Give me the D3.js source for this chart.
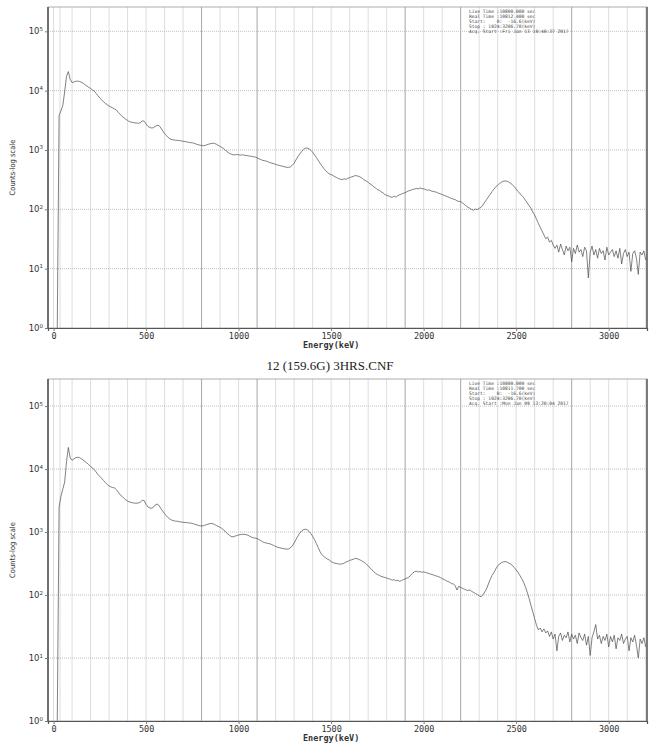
<!DOCTYPE html>
<html>
<head>
<meta charset="utf-8">
<script src="https://cdn.jsdelivr.net/npm/d3@7"></script>
<style>
body{margin:0;background:#fff;}
svg{display:block;}
</style>
</head>
<body>
<script>
// spectrum: one count per 10 keV bin, first bin at 20 keV
var binStart=20, binWidth=10;

var countsTop=[
	1,3800,4600,5600,9500,17500,21000,15500,
	13700,14000,14400,14500,14300,13900,13400,12600,12000,11400,
	10900,10300,9800,9000,8200,7500,7000,6500,6100,5800,
	5500,5300,5100,4900,4700,4300,4000,3700,3500,3300,
	3150,3000,2950,2900,2860,2850,2820,2900,3100,3050,
	2750,2500,2400,2350,2380,2500,2600,2580,2350,2100,
	1900,1750,1620,1530,1500,1480,1460,1450,1440,1420,
	1410,1390,1370,1350,1330,1320,1300,1260,1230,1210,
	1190,1180,1200,1230,1260,1280,1300,1290,1250,1200,
	1150,1100,1050,980,930,880,850,830,830,840,
	830,820,830,820,810,800,790,780,770,760,
	740,710,690,670,660,650,630,610,600,590,
	570,560,550,540,530,520,510,510,520,550,
	600,680,770,850,940,1020,1070,1080,1050,990,
	920,830,750,670,600,540,490,450,420,395,
	385,372,355,342,330,322,316,328,320,334,
	342,352,358,372,366,360,346,330,312,300,
	286,268,256,240,230,214,210,198,190,178,
	172,168,163,158,168,160,170,176,181,187,
	191,198,206,209,216,219,225,221,229,224,
	221,217,209,213,204,201,197,194,187,183,
	177,173,167,163,158,153,149,146,139,136,
	135,128,121,114,108,104,99,97,101,99,
	104,108,118,132,146,162,180,200,220,238,
	256,272,286,296,301,297,288,274,260,240,
	220,200,183,172,158,142,128,116,104,90,
	80,68,58,50,43,37,32,34,28,30,
	25,22,25,19,26,21,17,24,20,23,
	13,22,18,25,19,21,16,23,20,7,
	19,24,17,21,15,22,18,20,14,23,
	17,19,21,16,20,15,22,12,18,21,
	16,19,9,18,20,15,8,19,17,20,
	14
];

var countsBottom=[
	1,2500,3700,4800,6200,13000,22000,15000,
	13800,14500,15200,15400,15200,14600,13900,13200,12500,11800,
	11000,10400,9800,9000,8200,7600,7100,6600,6100,5700,
	5400,5200,5100,5000,4700,4300,3900,3700,3450,3250,
	3100,3000,2950,2900,2880,2870,2900,3000,3200,3150,
	2750,2500,2420,2400,2480,2700,2780,2650,2350,2150,
	1950,1800,1680,1600,1540,1510,1490,1480,1460,1440,
	1430,1420,1410,1400,1390,1370,1340,1310,1280,1260,
	1250,1260,1290,1320,1350,1370,1360,1320,1270,1230,
	1190,1140,1080,1000,940,890,850,840,860,880,
	900,910,920,920,910,890,860,830,810,800,
	790,760,730,700,680,670,660,650,630,610,
	590,575,565,555,548,540,535,540,560,600,
	670,760,860,960,1040,1090,1110,1090,1030,950,
	860,760,660,570,490,440,410,390,372,360,
	340,328,320,316,312,308,314,320,334,342,
	355,362,370,382,378,368,356,342,330,312,
	290,270,252,236,222,212,206,198,194,190,
	186,182,178,172,176,168,172,165,170,176,
	180,186,192,206,222,234,240,232,236,230,
	233,228,224,218,214,210,204,200,196,190,
	182,177,170,164,160,152,150,142,120,138,
	132,128,124,120,118,121,114,110,106,102,
	97,94,100,112,125,150,178,205,228,260,
	290,312,325,336,340,334,322,310,295,272,
	250,228,205,182,160,135,110,88,68,54,
	42,33,28,30,26,29,25,27,22,26,
	20,24,13,22,25,19,23,21,26,18,
	24,20,23,17,25,21,19,24,16,22,
	11,21,26,34,20,23,17,22,19,24,
	15,22,18,23,14,21,19,24,17,20,
	22,13,21,18,23,16,10,20,17,21,
	15
];

var xTicks=[0,500,1000,1500,2000,2500,3000];
var yExp=[0,1,2,3,4,5];
var gridDark=[800,1100,1900,2200,2800];
var gridExtra=[35];

var infoTop=[
	"Live Time :10800.000 sec",
	"Real Time :10812.400 sec",
	"Start:    0:  -16.6(keV)",
	"Stop : 1024:3206.70(keV)",
	"Acq. Start :Fri Jan 13 10:40:37 2017"
];
var infoBottom=[
	"Live Time :10800.000 sec",
	"Real Time :10811.700 sec",
	"Start:    0:  -16.6(keV)",
	"Stop : 1024:3206.70(keV)",
	"Acq. Start :Mon Jan 09 13:20:04 2017"
];
var title="12 (159.6G) 3HRS.CNF";

var W=657, H=744;
var svg=d3.select('body').append('svg').attr('width',W).attr('height',H);
var x=d3.scaleLinear().domain([-30,3207]).range([48,647]);
var mono="'DejaVu Sans Mono', monospace";

function panel(id, counts, info, top, bottom, topExp) {//{{{
	var y=d3.scaleLog().domain([1,Math.pow(10,topExp)]).range([bottom,top]);
	var g=svg.append('g').attr('id',id);

	g.append('clipPath').attr('id','clip_'+id).append('rect')
		.attr('x',48).attr('y',top).attr('width',599).attr('height',bottom-top);

	// vertical grid
	var light=d3.range(0,3201,100).filter(function(d){ return gridDark.indexOf(d)<0; }).concat(gridExtra);
	g.selectAll('line.vl').data(light).enter().append('line')
		.attr('class','vl')
		.attr('x1',function(d){ return x(d); }).attr('x2',function(d){ return x(d); })
		.attr('y1',top).attr('y2',bottom)
		.attr('stroke','#cfcfcf').attr('stroke-width',0.7);
	g.selectAll('line.vd').data(gridDark).enter().append('line')
		.attr('class','vd')
		.attr('x1',function(d){ return x(d); }).attr('x2',function(d){ return x(d); })
		.attr('y1',top).attr('y2',bottom)
		.attr('stroke','#8f8f8f').attr('stroke-width',0.8);

	// horizontal decade grid
	g.selectAll('line.hl').data(yExp.slice(1)).enter().append('line')
		.attr('class','hl')
		.attr('x1',48).attr('x2',647)
		.attr('y1',function(d){ return y(Math.pow(10,d)); })
		.attr('y2',function(d){ return y(Math.pow(10,d)); })
		.attr('stroke','#b0b0b0').attr('stroke-width',0.8).attr('stroke-dasharray','1,1');

	// spectrum
	var line=d3.line()
		.x(function(d,i){ return x(binStart+i*binWidth); })
		.y(function(d){ return y(Math.max(d,1)); });
	g.append('path').datum(counts)
		.attr('d',line)
		.attr('fill','none')
		.attr('stroke','#4a4a4a')
		.attr('stroke-width',0.7)
		.attr('clip-path','url(#clip_'+id+')');

	// frame
	g.append('rect').attr('x',48).attr('y',top).attr('width',599).attr('height',bottom-top)
		.attr('fill','none').attr('stroke','#9a9a9a').attr('stroke-width',0.8);
	g.append('line').attr('x1',48).attr('x2',48).attr('y1',top).attr('y2',bottom)
		.attr('stroke','#555').attr('stroke-width',1.6);
	g.append('line').attr('x1',647).attr('x2',647).attr('y1',top).attr('y2',bottom)
		.attr('stroke','#555').attr('stroke-width',1.4);

	// axes
	var xAxis=d3.axisBottom(x).tickValues(xTicks).tickSize(3).tickPadding(2).tickFormat(d3.format('d'));
	var gx=g.append('g').attr('transform','translate(0,'+bottom+')').call(xAxis);
	gx.select('.domain').attr('stroke','#555').attr('stroke-width',1.2);
	gx.selectAll('.tick line').attr('stroke','#777');
	gx.selectAll('.tick text').attr('font-family',mono).attr('font-size',8.5).attr('fill','#333');

	var yAxis=d3.axisLeft(y).tickValues(yExp.map(function(e){ return Math.pow(10,e); })).tickSize(3).tickFormat('');
	var gy=g.append('g').attr('transform','translate(48,0)').call(yAxis);
	gy.select('.domain').remove();
	gy.selectAll('.tick line').attr('stroke','#777');

	var yl=g.selectAll('text.yl').data(yExp).enter().append('text')
		.attr('class','yl')
		.attr('x',43)
		.attr('y',function(d){ return y(Math.pow(10,d))+3; })
		.attr('text-anchor','end')
		.attr('font-family','DejaVu Sans, sans-serif')
		.attr('font-size',8.5)
		.attr('fill','#333');
	yl.append('tspan').text('10');
	yl.append('tspan').attr('dy',-3.5).attr('font-size',5.5).text(function(d){ return d; });

	g.append('text')
		.attr('x',x(1500)).attr('y',bottom+20)
		.attr('text-anchor','middle')
		.attr('font-family',mono).attr('font-size',8.5).attr('font-weight','bold').attr('fill','#333')
		.text('Energy(keV)');

	g.append('text')
		.attr('transform','translate(15,'+((top+bottom)/2)+') rotate(-90)')
		.attr('text-anchor','middle')
		.attr('font-family','DejaVu Sans Condensed, DejaVu Sans, sans-serif')
		.attr('font-size',7.5).attr('fill','#333')
		.text('Counts-log scale');

	g.selectAll('text.info').data(info).enter().append('text')
		.attr('class','info')
		.attr('x',469)
		.attr('y',function(d,i){ return top+6+i*5; })
		.attr('font-family',mono).attr('font-size',4.6).attr('fill','#444')
		.attr('xml:space','preserve')
		.style('white-space','pre')
		.text(function(d){ return d; });
}
//}}}

panel('p_top', countsTop, infoTop, 7, 328, 5.41);
panel('p_bottom', countsBottom, infoBottom, 379, 721, 5.43);

svg.append('text')
	.attr('x',330).attr('y',370)
	.attr('text-anchor','middle')
	.attr('font-family','Liberation Serif, Times New Roman, serif')
	.attr('font-size',13).attr('fill','#222')
	.text(title);
</script>
</body>
</html>
